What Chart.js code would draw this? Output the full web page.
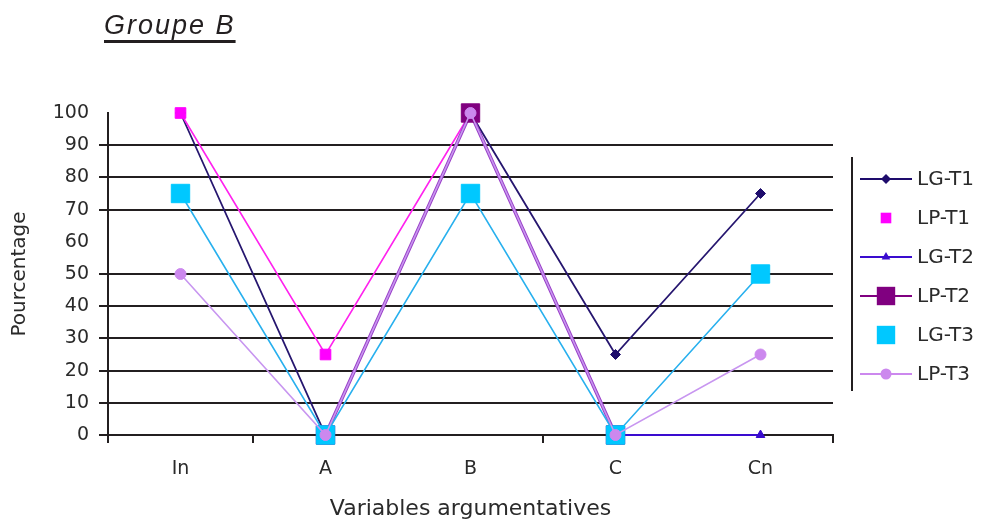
<!DOCTYPE html>
<html>
<head>
<meta charset="utf-8">
<script src="https://cdn.jsdelivr.net/npm/chart.js@4/dist/chart.umd.min.js"></script>
<style>
  html, body { margin: 0; padding: 0; background: #fff; }
  #wrap { position: relative; width: 984px; height: 522px; }
  #title {
    position: absolute; left: 104px; top: 10px; line-height: 31px;
    font: italic 27px "Liberation Sans", Arial, sans-serif;
    color: #231f20; letter-spacing: 2px;
    text-decoration: underline; text-decoration-thickness: 3px; text-underline-offset: 6px;
    text-decoration-skip-ink: none;
  }
  canvas { position: absolute; left: 0; top: 0; }
</style>
</head>
<body>
<div id="wrap">
  <canvas id="chart" width="984" height="522"></canvas>
  <div id="title">Groupe B</div>
</div>
<script>
// data
const categories = ["In", "A", "B", "C", "Cn"];
const seriesNames = ["LG-T1", "LP-T1", "LG-T2", "LP-T2", "LG-T3", "LP-T3"];
const lgT1 = [100, 0, 100, 25, 75];
const lpT1 = [100, 25, 100, null, null];
const lgT2 = [null, null, null, 0, 0];
const lpT2 = [null, 0, 100, 0, null];
const lgT3 = [75, 0, 75, 0, 50];
const lpT3 = [50, 0, 100, 0, 25];
const yMin = 0, yMax = 100, yStep = 10;
const yHiddenGrid = [60, 100];   // these lines are missing in the original
const xHiddenTicks = [2, 4];

const black = "#231f20";
const textColor = "#2a2a2a";
const family = "'DejaVu Sans', sans-serif";
const font = { family, size: 19 };

function line(label, data, color, lineColor, width, style, radius, order, noLegendLine) {
  return {
    label, data,
    borderColor: lineColor, backgroundColor: color,
    borderWidth: width,
    pointStyle: style, pointRadius: radius, pointHoverRadius: radius,
    pointBackgroundColor: color, pointBorderColor: color, pointBorderWidth: 1,
    tension: 0, spanGaps: false, clip: false, order,
    noLegendLine
  };
}

const datasets = [
  line(seriesNames[0], lgT1, "#1e0c6c", "#26166f", 1.8, "rectRot", 5, 6, false),
  line(seriesNames[1], lpT1, "#ff00ff", "#ff22ee", 1.6, "rect", 7.5, 5, true),
  line(seriesNames[2], lgT2, "#3a0ccf", "#3a0ccf", 2, "triangle", 5, 4, false),
  line(seriesNames[3], lpT2, "#800080", "#9a40c8", 3.5, "rect", 13, 3, false),
  line(seriesNames[4], lgT3, "#00c8ff", "#28b0ee", 1.6, "rect", 13, 2, true),
  line(seriesNames[5], lpT3, "#cc88ee", "#c896f0", 1.6, "circle", 5.5, 1, false)
];

const sideLegend = {
  id: "sideLegend",
  afterDraw(chart) {
    const ctx = chart.ctx;
    ctx.save();
    ctx.strokeStyle = black;
    ctx.lineWidth = 2;
    ctx.beginPath();
    ctx.moveTo(852, 157);
    ctx.lineTo(852, 391);
    ctx.stroke();
    chart.data.datasets.forEach((ds, i) => {
      const y = 179 + i * 39;
      if (!ds.noLegendLine) {
        ctx.strokeStyle = ds.pointBorderColor;
        ctx.lineWidth = 2;
        ctx.beginPath();
        ctx.moveTo(860, y);
        ctx.lineTo(912, y);
        ctx.stroke();
      }
      ctx.fillStyle = ds.pointBackgroundColor;
      ctx.strokeStyle = ds.pointBorderColor;
      ctx.lineWidth = 1;
      Chart.helpers.drawPoint(ctx, { pointStyle: ds.pointStyle, radius: ds.pointRadius, rotation: 0 }, 886, y);
      ctx.fillStyle = textColor;
      ctx.font = "20px " + family;
      ctx.textBaseline = "middle";
      ctx.textAlign = "left";
      ctx.fillText(ds.label, 917, y + 1);
    });
    ctx.restore();
  }
};

new Chart(document.getElementById("chart"), {
  type: "line",
  data: { labels: categories, datasets },
  options: {
    responsive: false,
    animation: false,
    layout: { padding: { top: 113, right: 151, bottom: 0, left: 0 } },
    plugins: { legend: { display: false }, tooltip: { enabled: false } },
    scales: {
      x: {
        offset: true,
        grid: {
          offset: true, drawOnChartArea: false, drawTicks: true, tickLength: 8, lineWidth: 2,
          color: (c) => xHiddenTicks.includes(c.index) ? "rgba(0,0,0,0)" : black
        },
        border: { color: black, width: 2 },
        ticks: { color: textColor, font, padding: 15, maxRotation: 0 },
        title: { display: true, text: "Variables argumentatives", color: textColor, font: { family, size: 22 }, padding: { top: 2, bottom: 0 } },
        afterFit: (s) => { s.height = 87; }
      },
      y: {
        min: yMin, max: yMax,
        grid: {
          lineWidth: 2, tickLength: 9,
          color: (c) => c.tick && yHiddenGrid.includes(c.tick.value) ? "rgba(0,0,0,0)" : black
        },
        border: { color: black, width: 2 },
        ticks: { stepSize: yStep, color: textColor, font, padding: 10 },
        title: { display: true, text: "Pourcentage", color: textColor, font: { family, size: 20 }, padding: { top: 8, bottom: 0 } },
        afterFit: (s) => { s.width = 108; }
      }
    }
  },
  plugins: [sideLegend]
});
</script>
</body>
</html>
